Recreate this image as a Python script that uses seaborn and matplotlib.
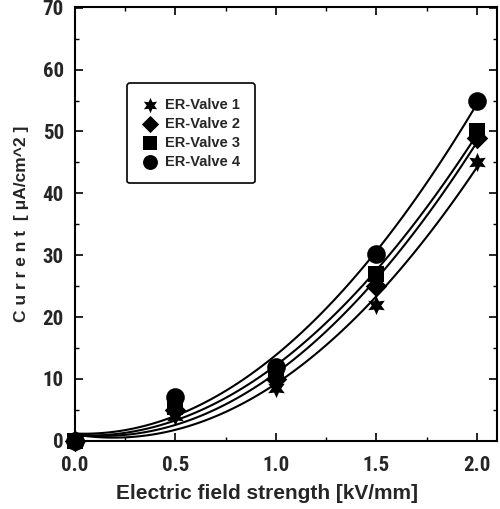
import numpy as np
import pandas as pd
import matplotlib
matplotlib.use("Agg")
import matplotlib.pyplot as plt
import seaborn as sns
from matplotlib.ticker import MultipleLocator
from matplotlib import font_manager

field = [0.0, 0.5, 1.0, 1.5, 2.0]
valve1 = [0.0, 4.0, 8.6, 22.0, 45.0]
valve2 = [0.0, 5.0, 10.0, 25.0, 49.0]
valve3 = [0.0, 5.5, 11.0, 27.0, 50.0]
valve4 = [0.0, 7.0, 12.0, 30.2, 55.0]
names = ["ER-Valve 1", "ER-Valve 2", "ER-Valve 3", "ER-Valve 4"]

sns.set_theme(style="ticks")
avail = {f.name for f in font_manager.fontManager.ttflist}
tick_fam = [f for f in ['Liberation Sans Narrow', 'DejaVu Sans Condensed', 'Roboto Condensed']
            if f in avail] + ['Liberation Sans', 'DejaVu Sans']
plt.rcParams['font.family'] = ['Liberation Sans', 'DejaVu Sans']
plt.rcParams['font.weight'] = 'bold'

rows = []
for name, vals in zip(names, [valve1, valve2, valve3, valve4]):
    for x, y in zip(field, vals):
        rows.append({"E": x, "I": y, "Valve": name})
df = pd.DataFrame(rows)

fig = plt.figure(figsize=(5.0, 5.09), dpi=100)
ax = fig.add_axes([0.15, 0.134, 0.844, 0.852])

for name in names:
    sub = df[df["Valve"] == name]
    sns.regplot(data=sub, x="E", y="I", order=2, ci=None, scatter=False,
                ax=ax, line_kws=dict(color="black", lw=1.5))

markers = {"ER-Valve 1": (6, 1, 0), "ER-Valve 2": "D", "ER-Valve 3": "s", "ER-Valve 4": "o"}
sizes = {"ER-Valve 1": 190, "ER-Valve 2": 120, "ER-Valve 3": 140, "ER-Valve 4": 180}
for name in names:
    sub = df[df["Valve"] == name]
    ax.scatter(sub["E"], sub["I"], marker=markers[name], s=sizes[name], color="black",
               edgecolors="black", linewidths=0, zorder=3, label=name, clip_on=False)

ax.set_xlim(0, 2.1)
ax.set_ylim(0, 70.1)
ax.xaxis.set_major_locator(MultipleLocator(0.5))
ax.xaxis.set_minor_locator(MultipleLocator(0.25))
ax.yaxis.set_major_locator(MultipleLocator(10))
ax.yaxis.set_minor_locator(MultipleLocator(5))
ax.xaxis.set_major_formatter(matplotlib.ticker.FormatStrFormatter('%.1f'))
ax.tick_params(which='both', direction='in', top=True, right=True, color='black')
ax.tick_params(which='major', length=6, width=1.2, labelsize=15)
ax.tick_params(axis='x', which='major', pad=11)
ax.tick_params(axis='y', which='major', pad=8)
ax.tick_params(which='minor', length=3, width=1.0)
for lab in ax.get_xticklabels() + ax.get_yticklabels():
    lab.set_fontweight('bold')
    lab.set_family(tick_fam)
for sp in ax.spines.values():
    sp.set_color('black')
    sp.set_linewidth(1.5)

ax.set_xlabel("Electric field strength [kV/mm]", fontsize=15, fontweight='bold')
ax.xaxis.set_label_coords(0.455, -0.10)
ax.set_ylabel("C u r r e n t  [ μA/cm^2 ]", fontsize=12.5, fontweight='bold', labelpad=10)

leg = ax.legend(loc='upper left', bbox_to_anchor=(0.123, 0.825), borderaxespad=0,
                frameon=True, fancybox=True, edgecolor='black', framealpha=1,
                prop=dict(weight='bold', size=10.5),
                markerscale=0.8, handletextpad=0.5, borderpad=1.0, labelspacing=0.35,
                handlelength=1.1)
leg.get_frame().set_linewidth(1.2)

fig.savefig("out.png", dpi=100)
